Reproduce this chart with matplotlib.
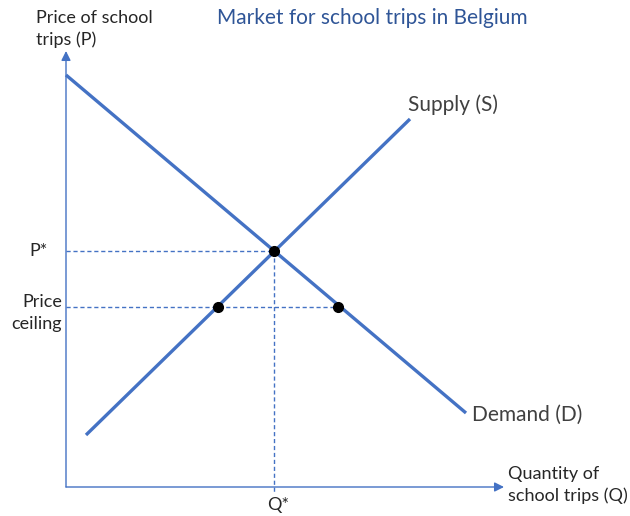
import matplotlib.pyplot as plt

# demand and supply lines (quantity, price)
demand_q = [0.0, 10.0]
demand_p = [10.3, 1.85]
supply_q = [0.5, 8.6]
supply_p = [1.3, 9.2]

eq_q = 5.2
eq_p = 5.9
ceiling_p = 4.5
ceiling_q = [3.8, 6.8]  # quantity supplied, quantity demanded

blue = '#4472C4'
text_col = '#262626'
plt.rcParams['font.family'] = ['Lato', 'DejaVu Sans']

fig = plt.figure(figsize=(6.3, 5.16), dpi=100)
ax = fig.add_axes([0, 0, 1, 1])
ax.set_xlim(-1.65, 14.1)
ax.set_ylim(-0.725, 12.175)
ax.axis('off')

# axes with arrows
arrow = dict(arrowstyle='-|>', color=blue, lw=1.0, mutation_scale=14, shrinkA=0, shrinkB=0)
ax.annotate('', xy=(0, 10.9), xytext=(0, 0), arrowprops=arrow)
ax.annotate('', xy=(10.95, 0), xytext=(0, 0), arrowprops=arrow)

# dashed guides
dash = dict(color=blue, lw=1.0, ls=(0, (3, 2)))
ax.plot([0, eq_q], [eq_p, eq_p], **dash)
ax.plot([eq_q, eq_q], [eq_p, -0.12], **dash)
ax.plot([0, ceiling_q[1]], [ceiling_p, ceiling_p], **dash)

# curves
ax.plot(demand_q, demand_p, color=blue, lw=2.4, solid_capstyle='butt')
ax.plot(supply_q, supply_p, color=blue, lw=2.4, solid_capstyle='butt')

# points
ax.plot([eq_q], [eq_p], 'o', color='black', ms=7, zorder=5)
ax.plot(ceiling_q, [ceiling_p, ceiling_p], 'o', color='black', ms=7, zorder=5)

fs = 13
ax.text(-0.75, 11.45, 'Price of school\ntrips (P)', fontsize=fs, color=text_col,
        va='center', ha='left', linespacing=1.45)
ax.text(7.65, 11.72, 'Market for school trips in Belgium', fontsize=15,
        color='#2F5597', ha='center', va='center')
ax.text(8.55, 9.55, 'Supply (S)', fontsize=15, color='#404040', ha='left', va='center')
ax.text(10.15, 1.8, 'Demand (D)', fontsize=15, color='#404040', ha='left', va='center')
ax.text(-0.45, eq_p, 'P*', fontsize=fs, color=text_col, ha='right', va='center')
ax.text(-0.1, ceiling_p - 0.15, 'Price\nceiling', fontsize=fs, color=text_col,
        ha='right', va='center', linespacing=1.4)
ax.text(eq_q + 0.1, -0.45, 'Q*', fontsize=fs, color=text_col, ha='center', va='center')
ax.text(11.05, 0.05, 'Quantity of\nschool trips (Q)', fontsize=fs, color=text_col,
        ha='left', va='center', linespacing=1.45)

fig.savefig('out.png', dpi=100)
